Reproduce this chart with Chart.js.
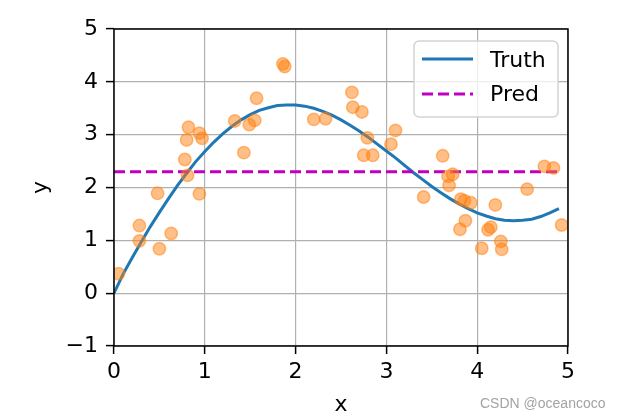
<!DOCTYPE html>
<html>
<head>
<meta charset="utf-8">
<script src="https://cdn.jsdelivr.net/npm/chart.js@4"></script>
<style>
  html, body { margin: 0; padding: 0; background: #fff; }
  canvas { display: block; }
</style>
</head>
<body>
<canvas id="chart" width="618" height="418"></canvas>
<script>
// ===============================
// Dados
// ===============================
const truthX = [0, 0.1, 0.2, 0.3, 0.4, 0.5, 0.6, 0.7, 0.8, 0.9,
  1.0, 1.1, 1.2, 1.3, 1.4, 1.5, 1.6, 1.7, 1.8, 1.9,
  2.0, 2.1, 2.2, 2.3, 2.4, 2.5, 2.6, 2.7, 2.8, 2.9,
  3.0, 3.1, 3.2, 3.3, 3.4, 3.5, 3.6, 3.7, 3.8, 3.9,
  4.0, 4.1, 4.2, 4.3, 4.4, 4.5, 4.6, 4.7, 4.8, 4.9];
const truthY = [0, 0.36, 0.67, 0.97, 1.26, 1.53, 1.79, 2.04, 2.27, 2.49,
  2.68, 2.86, 3.02, 3.16, 3.28, 3.38, 3.46, 3.51, 3.55, 3.56,
  3.56, 3.54, 3.50, 3.44, 3.37, 3.28, 3.18, 3.07, 2.95, 2.82,
  2.69, 2.56, 2.42, 2.28, 2.15, 2.02, 1.90, 1.79, 1.69, 1.60,
  1.52, 1.46, 1.41, 1.38, 1.37, 1.38, 1.40, 1.45, 1.52, 1.60];

const predX = [0, 4.9];
const predY = [2.3, 2.3];

const sampleX = [0.05, 0.28, 0.28, 0.48, 0.50, 0.63, 0.78, 0.80, 0.81, 0.82,
  0.94, 0.94, 0.97, 1.33, 1.43, 1.49, 1.55, 1.57, 1.86, 1.88,
  2.20, 2.33, 2.62, 2.63, 2.73, 2.75, 2.79, 2.85, 3.05, 3.10,
  3.41, 3.62, 3.68, 3.69, 3.73, 3.81, 3.82, 3.86, 3.87, 3.93,
  4.05, 4.12, 4.15, 4.20, 4.26, 4.27, 4.55, 4.74, 4.84, 4.93];
const sampleY = [0.37, 1.28, 0.99, 1.89, 0.84, 1.13, 2.53, 2.90, 2.23, 3.14,
  3.03, 1.88, 2.93, 3.26, 2.66, 3.19, 3.27, 3.69, 4.34, 4.29,
  3.29, 3.30, 3.80, 3.52, 3.43, 2.61, 2.94, 2.61, 2.82, 3.08,
  1.82, 2.60, 2.21, 2.04, 2.25, 1.21, 1.78, 1.75, 1.37, 1.71,
  0.85, 1.20, 1.25, 1.67, 0.98, 0.83, 1.97, 2.40, 2.37, 1.29];

const legendLabels = ["Truth", "Pred"];
const xTicks = [0, 1, 2, 3, 4, 5];
const yTicks = [-1, 0, 1, 2, 3, 4, 5];

// ===============================
// Estilos
// ===============================
const FONT = "'DejaVu Sans', sans-serif";
const BLUE = "#1f77b4";
const MAGENTA = "#bf00bf";
const ORANGE = "rgba(255, 127, 14, 0.5)";
const DASH = [11, 5];

const toPoints = (xs, ys) => xs.map((x, i) => ({ x, y: ys[i] }));

// Moldura (spines) + legenda dentro da área
const framePlugin = {
  id: "frame",
  afterDraw(chart) {
    const { ctx, chartArea: a } = chart;
    ctx.save();
    ctx.strokeStyle = "#000";
    ctx.lineWidth = 1.5;
    ctx.strokeRect(a.left, a.top, a.right - a.left, a.bottom - a.top);

    // legenda
    const bx = 414, by = 41, bw = 144, bh = 76;
    ctx.beginPath();
    ctx.roundRect(bx, by, bw, bh, 5);
    ctx.fillStyle = "rgba(255,255,255,0.8)";
    ctx.fill();
    ctx.strokeStyle = "#d3d3d3";
    ctx.lineWidth = 1.5;
    ctx.stroke();

    ctx.lineWidth = 3;
    ctx.strokeStyle = BLUE;
    ctx.beginPath(); ctx.moveTo(422, 59); ctx.lineTo(473, 59); ctx.stroke();
    ctx.strokeStyle = MAGENTA;
    ctx.setLineDash(DASH);
    ctx.beginPath(); ctx.moveTo(422, 94); ctx.lineTo(473, 94); ctx.stroke();
    ctx.setLineDash([]);

    ctx.fillStyle = "#000";
    ctx.font = "22px " + FONT;
    ctx.textBaseline = "middle";
    ctx.textAlign = "left";
    ctx.fillText(legendLabels[0], 490, 61);
    ctx.fillText(legendLabels[1], 490, 95);

    // marca d'água
    ctx.font = "14px 'Liberation Sans', Arial, sans-serif";
    ctx.fillStyle = "#a3a3a3";
    ctx.textBaseline = "alphabetic";
    ctx.fillText("CSDN @oceancoco", 480, 408);
    ctx.restore();
  }
};

// ===============================
// Gráfico
// ===============================
const ctx = document.getElementById("chart").getContext("2d");
new Chart(ctx, {
  type: "scatter",
  data: {
    datasets: [
      {
        label: "samples",
        data: toPoints(sampleX, sampleY),
        backgroundColor: ORANGE,
        borderColor: ORANGE,
        borderWidth: 1.5,
        pointRadius: 6.2,
        order: 0
      },
      {
        label: legendLabels[1],
        type: "line",
        data: toPoints(predX, predY),
        borderColor: MAGENTA,
        borderWidth: 3,
        borderDash: DASH,
        pointRadius: 0,
        order: 1
      },
      {
        label: legendLabels[0],
        type: "line",
        data: toPoints(truthX, truthY),
        borderColor: BLUE,
        borderWidth: 3,
        pointRadius: 0,
        tension: 0,
        order: 2
      }
    ]
  },
  options: {
    responsive: false,
    animation: false,
    devicePixelRatio: 1,
    layout: { padding: { left: 0, right: 50, top: 29, bottom: 0 } },
    plugins: {
      legend: { display: false },
      tooltip: { enabled: false }
    },
    scales: {
      x: {
        type: "linear",
        min: 0,
        max: 5,
        afterBuildTicks: s => { s.ticks = xTicks.map(v => ({ value: v })); },
        afterFit: s => { s.height = 72; },
        border: { display: false },
        grid: { color: "#b0b0b0", lineWidth: 1.2, tickColor: "#000", tickLength: 8, tickWidth: 1.5 },
        ticks: { color: "#000", padding: 5, maxRotation: 0, font: { family: FONT, size: 22 } },
        title: { display: true, text: "x", color: "#000", padding: 0, font: { family: FONT, size: 22 } }
      },
      y: {
        type: "linear",
        min: -1,
        max: 5,
        afterBuildTicks: s => { s.ticks = yTicks.map(v => ({ value: v })); },
        afterFit: s => { s.width = 114; },
        border: { display: false },
        grid: { color: "#b0b0b0", lineWidth: 1.2, tickColor: "#000", tickLength: 8, tickWidth: 1.5 },
        ticks: {
          color: "#000",
          padding: 8,
          font: { family: FONT, size: 22 },
          callback: v => (v < 0 ? "\u2212" + Math.abs(v) : String(v))
        },
        title: { display: true, text: "y", color: "#000", padding: { top: 28, bottom: 0 }, font: { family: FONT, size: 22 } }
      }
    }
  },
  plugins: [framePlugin]
});
</script>
</body>
</html>
